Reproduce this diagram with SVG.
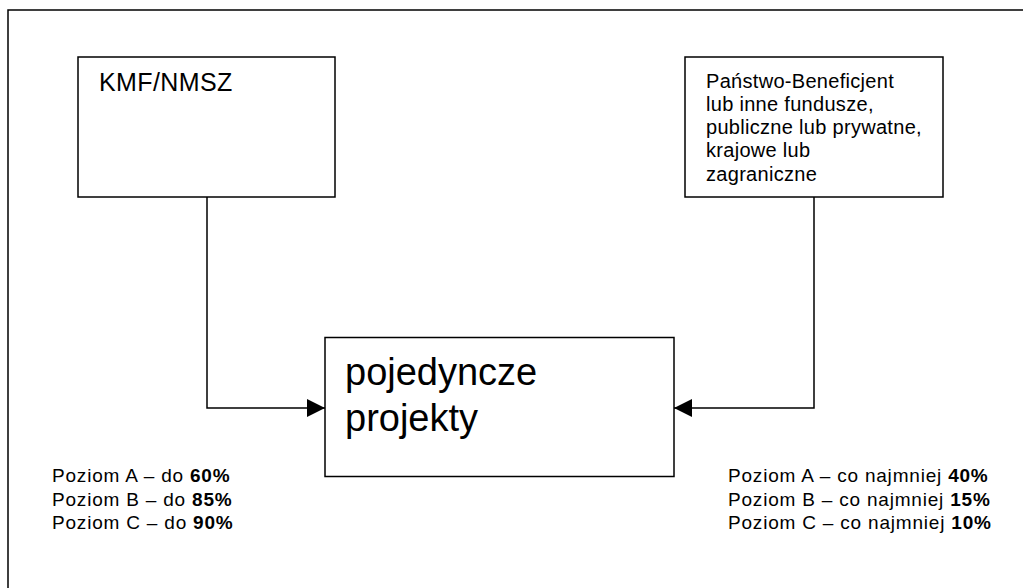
<svg xmlns="http://www.w3.org/2000/svg" width="1023" height="588" viewBox="0 0 1023 588">
<style>
.box{fill:#fff;stroke:#000;stroke-width:1.5}
.ln{fill:none;stroke:#000;stroke-width:1.5}
text{font-family:"Liberation Sans",Arial,sans-serif;fill:#000}
.t20{font-size:20px;letter-spacing:0.3px}
.t19{font-size:19px;letter-spacing:0.8px}
.b{font-weight:bold}
</style>
<defs>
<marker id="arr" viewBox="0 0 18 18" refX="18" refY="9" markerWidth="18" markerHeight="18" markerUnits="userSpaceOnUse" orient="auto">
<path d="M0,0 L18,9 L0,18 Z" fill="#000"/>
</marker>
</defs>
<rect width="1023" height="588" fill="#fff"/>
<g id="frame"><path class="ln" d="M8,588 V10 H1023"/></g>
<g id="kmf">
<rect class="box" x="78" y="57" width="257" height="140"/>
<text x="99" y="91" font-size="25" letter-spacing="0.4">KMF/NMSZ</text>
</g>
<g id="panstwo">
<rect class="box" x="685" y="57" width="258" height="140"/>
<text class="t20" x="706"><tspan x="706" y="87.5">Państwo-Beneficjent</tspan><tspan x="706" y="110.8">lub inne fundusze,</tspan><tspan x="706" y="134.1">publiczne lub prywatne,</tspan><tspan x="706" y="157.4">krajowe lub</tspan><tspan x="706" y="180.7">zagraniczne</tspan></text>
</g>
<g id="projekty">
<rect class="box" x="325" y="337.5" width="349" height="139"/>
<text x="345" font-size="38"><tspan x="345" y="385">pojedyncze</tspan><tspan x="345" y="431">projekty</tspan></text>
</g>
<g id="connectors">
<path class="ln" d="M207,197 V408 H325" marker-end="url(#arr)"/>
<path class="ln" d="M814,197 V408 H674" marker-end="url(#arr)"/>
</g>
<g id="left-labels">
<text class="t19"><tspan x="52" y="482">Poziom A – do <tspan class="b">60%</tspan></tspan><tspan x="52" y="505.5">Poziom B – do <tspan class="b">85%</tspan></tspan><tspan x="52" y="529">Poziom C – do <tspan class="b">90%</tspan></tspan></text>
</g>
<g id="right-labels">
<text class="t19"><tspan x="728" y="482">Poziom A – co najmniej <tspan class="b">40%</tspan></tspan><tspan x="728" y="505.5">Poziom B – co najmniej <tspan class="b">15%</tspan></tspan><tspan x="728" y="529">Poziom C – co najmniej <tspan class="b">10%</tspan></tspan></text>
</g>
</svg>
